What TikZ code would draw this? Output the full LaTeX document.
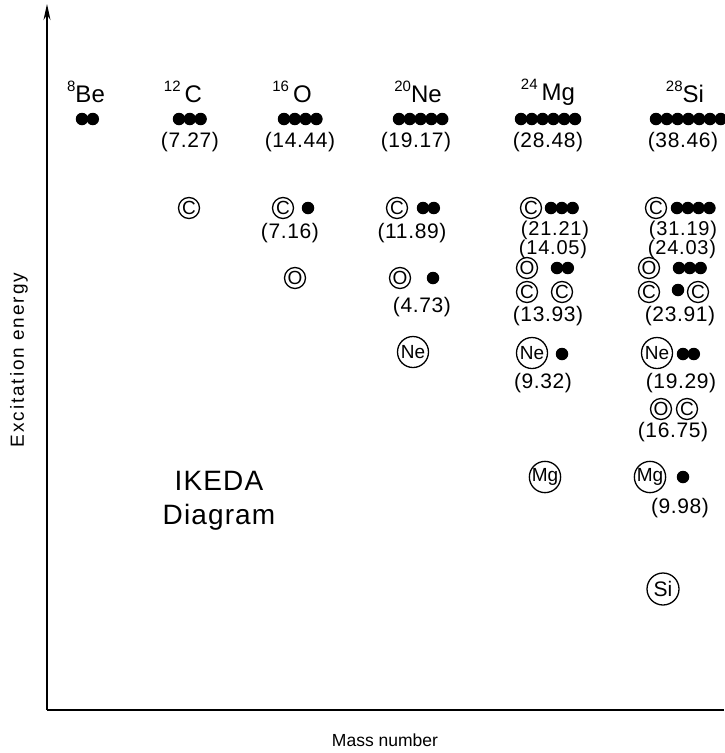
\documentclass[tikz,border=0pt]{standalone}
\usepackage{fontspec}
\setmainfont{Liberation Sans}
\usetikzlibrary{arrows.meta}
\tikzset{
 dot/.style={circle,fill=black,inner sep=0pt,minimum size=12.5pt},
 nuc/.style={circle,draw,line width=1.3pt,inner sep=0pt,minimum size=21pt,font=\fontsize{19}{19}\selectfont},
 bignuc/.style={nuc,minimum size=31pt},
 val/.style={font=\fontsize{21}{21}\selectfont\addfontfeatures{LetterSpace=3}},
 tightval/.style={font=\fontsize{20}{20}\selectfont\addfontfeatures{LetterSpace=4}},
 head/.style={font=\fontsize{24}{24}\selectfont},
 axlabel/.style={font=\fontsize{19}{19}\selectfont\addfontfeatures{LetterSpace=10}},
 xlabel/.style={font=\fontsize{17.5}{17.5}\selectfont},
 title/.style={font=\fontsize{28}{34}\selectfont\addfontfeatures{LetterSpace=4},align=center},
 axis/.style={line width=1.3pt},
}
\newcommand\chain[4]{\foreach \i in {1,...,#4} \node[dot] (#1-\i) at ({#2+(\i-1)*10.8},#3) {};}
\newcommand\mysup[1]{\raisebox{0.45em}{\fontsize{15}{15}\selectfont #1}}
\begin{document}
\begin{tikzpicture}[x=1pt,y=-1pt]
\useasboundingbox (0,0) rectangle (724,753);
% axes
\coordinate (o) at (47,710);
\coordinate (ytop) at (47,4);
\coordinate (xend) at (724,710);
\draw[axis,-{Stealth[length=16pt,width=7pt]}] (o) -- (ytop);
\draw[axis] (o) -- (xend);
\node[axlabel,rotate=90] (ylab) at (19,360) {Excitation energy};
\node[xlabel] (xlab) at (385,740) {Mass number};
% headers
\node[head] (hBe) at (86,92) {\mysup{8}Be};
\node[head] (hC) at (183,92) {\mysup{12}\,C};
\node[head] (hO) at (292,92) {\mysup{16}\,O};
\node[head] (hNe) at (418,92) {\mysup{20}Ne};
\node[head] (hMg) at (548,92) {\mysup{24}\,Mg};
\node[head] (hSi) at (685,92) {\mysup{28}Si};
% ground rows
\chain{be}{82}{119}{2}
\chain{c}{179}{119}{3}
\chain{o}{284}{119}{4}
\chain{ne}{399}{119}{5}
\chain{mg}{521}{119}{6}
\chain{si}{656}{119}{7}
\node[val] (vC) at (190,142) {(7.27)};
\node[val] (vO) at (300,142) {(14.44)};
\node[val] (vNe) at (416,142) {(19.17)};
\node[val] (vMg) at (548,142) {(28.48)};
\node[val] (vSi) at (683,142) {(38.46)};
% C-cluster row
\node[nuc] (cC) at (189,208) {C};
\node[nuc] (oC) at (283,208) {C};
\node[dot] (oC1) at (308,208) {};
\node[val] (v716) at (290,233) {(7.16)};
\node[nuc] (neC) at (397,208) {C};
\chain{neCd}{423}{208}{2}
\node[val] (v1189) at (412,233) {(11.89)};
\node[nuc] (mgC) at (531,208) {C};
\chain{mgCd}{551}{208}{3}
\node[tightval] (v2121) at (555,230) {(21.21)};
\node[tightval] (v1405) at (553,249.5) {(14.05)};
\node[nuc] (siC) at (656,208) {C};
\chain{siCd}{677}{208}{4}
\node[tightval] (v3119) at (683,230) {(31.19)};
\node[tightval] (v2403) at (682,249.5) {(24.03)};
% O row
\node[nuc] (oO) at (295,278) {O};
\node[nuc] (neO) at (400,278) {O};
\node[dot] (neO1) at (433,278) {};
\node[val] (v473) at (422,307) {(4.73)};
\node[nuc] (mgO) at (527,268) {O};
\chain{mgOd}{557}{268}{2}
\node[nuc] (siO) at (649,268) {O};
\chain{siOd}{679}{268}{3}
\node[nuc] (mgCC1) at (527,292) {C};
\node[nuc] (mgCC2) at (562,292) {C};
\node[val] (v1393) at (548,316) {(13.93)};
\node[nuc] (siCC1) at (649,292) {C};
\node[dot] (siCC0) at (678,290) {};
\node[nuc] (siCC2) at (698,292) {C};
\node[val] (v2391) at (680,316) {(23.91)};
% Ne row
\node[bignuc] (neNe) at (413,352) {Ne};
\node[bignuc] (mgNe) at (532,353) {Ne};
\node[dot] (mgNe1) at (562,354) {};
\node[val] (v932) at (543,383) {(9.32)};
\node[bignuc] (siNe) at (657,353) {Ne};
\chain{siNed}{683}{354}{2}
\node[val] (v1929) at (681,383) {(19.29)};
\node[nuc] (siOC1) at (661,409) {O};
\node[nuc] (siOC2) at (687,409) {C};
\node[val] (v1675) at (673,432) {(16.75)};
% Mg row
\node[bignuc] (mgMg) at (545,477) {Mg};
\node[bignuc] (siMg) at (650,477) {Mg};
\node[dot] (siMg1) at (683,477) {};
\node[val] (v998) at (680,508) {(9.98)};
% Si
\node[bignuc,minimum size=32pt,font=\fontsize{21}{21}\selectfont] (siSi) at (663,589) {Si};
% title
\node[title] (ttl) at (219,501) {IKEDA\\Diagram};
\end{tikzpicture}
\end{document}
